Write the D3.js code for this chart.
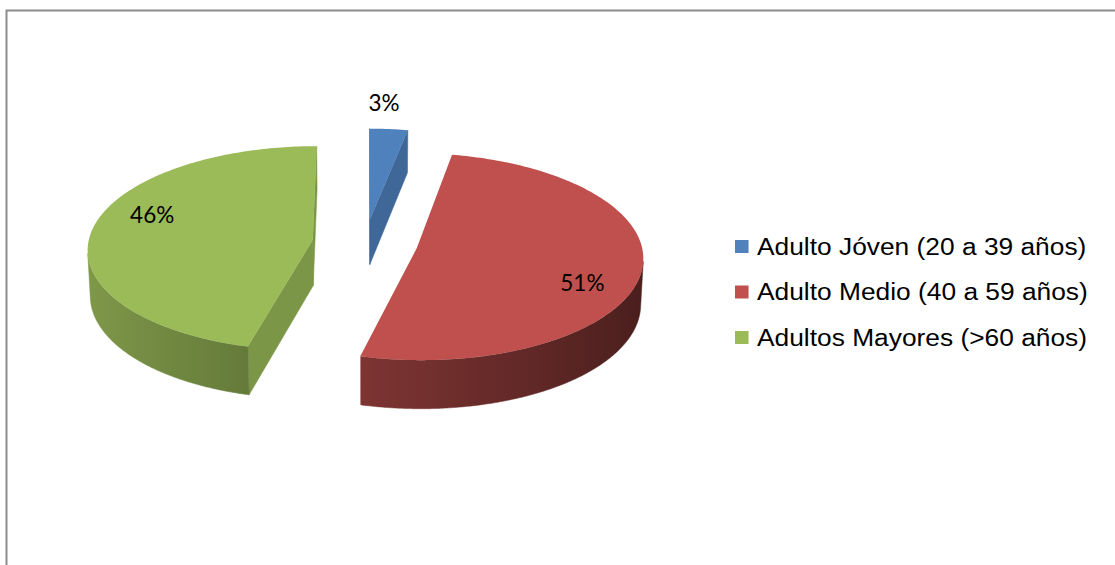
<!DOCTYPE html>
<html>
<head>
<meta charset="utf-8">
<script src="https://cdn.jsdelivr.net/npm/d3@7"></script>
<style>
  html, body { margin: 0; padding: 0; background: #fff; }
  svg { display: block; }
</style>
</head>
<body>
<svg id="chart" width="1115" height="565"></svg>
<script>
// Age groups and their share of the sample (percent)
const categories = ["Adulto Jóven (20 a 39 años)", "Adulto Medio (40 a 59 años)", "Adultos Mayores (>60 años)"];
const shares = [3, 51, 46];
const colors = ["#4F81BD", "#C0504D", "#9BBB59"];

const W = 1115, H = 565;
const svg = d3.select("#chart");
const defs = svg.append("defs");

// chart frame
svg.append("rect")
  .attr("x", 6.5).attr("y", 10.5)
  .attr("width", W + 20).attr("height", H + 20)
  .attr("fill", "#fff").attr("stroke", "#8c8c8c").attr("stroke-width", 2);

// ---- simple perspective camera for the 3-D pie ----
const tilt = 27 * Math.PI / 180;   // elevation of the view
const camDist = 11;                // camera distance in pie radii
const focal = 2470;                // pixels per unit at unit depth
const cx = 365, cy = 243;          // screen position of pie centre
const thickness = 0.23;            // pie height in radii
const explode = 0.235;             // slice pull-out in radii
const cosT = Math.cos(tilt), sinT = Math.sin(tilt);
const cam = [0, camDist * sinT, -camDist * cosT];

function project(X, Y, Z) {
  const D = camDist + Z * cosT - Y * sinT;
  return [cx + focal * X / D, cy - focal * (Y * cosT + Z * sinT) / D];
}
function faces(P, n) {
  return (cam[0] - P[0]) * n[0] + (cam[1] - P[1]) * n[1] + (cam[2] - P[2]) * n[2] > 0;
}
function shade(hex, k) {
  const c = d3.rgb(hex);
  return d3.rgb(c.r * k, c.g * k, c.b * k).formatHex();
}
// side light comes from the left
const wallLight = a => Math.max(0.3, Math.min(0.85, 0.6 + 0.22 * (-Math.sin(a))));

const pie = d3.pie().sort(null).startAngle(0).endAngle(2 * Math.PI);
const arcs = pie(shares).map((d, i) => {
  const mid = (d.startAngle + d.endAngle) / 2;
  return { ...d, i, mid, ox: explode * Math.sin(mid), oz: explode * Math.cos(mid) };
});

const line = d3.line();
const gPie = svg.append("g");

// paint farthest slices first
const order = arcs.slice().sort((a, b) => b.oz - a.oz);

order.forEach(s => {
  const g = gPie.append("g");
  const base = colors[s.i];
  const pt = (a, y) => [s.ox + Math.sin(a), y, s.oz + Math.cos(a)];
  const apex = y => [s.ox, y, s.oz];
  const P = v => project(v[0], v[1], v[2]);
  const yTop = 0, yBot = -thickness;

  // radial cut faces
  const cuts = [
    { a: s.startAngle, n: [-Math.cos(s.startAngle), 0, Math.sin(s.startAngle)] },
    { a: s.endAngle, n: [Math.cos(s.endAngle), 0, -Math.sin(s.endAngle)] }
  ];
  cuts.forEach(c => {
    const mid = [s.ox + Math.sin(c.a) / 2, -thickness / 2, s.oz + Math.cos(c.a) / 2];
    if (!faces(mid, c.n)) return;
    const quad = [P(apex(yTop)), P(pt(c.a, yTop)), P(pt(c.a, yBot)), P(apex(yBot))];
    g.append("path").attr("d", line(quad) + "Z")
      .attr("fill", shade(base, 0.8)).attr("stroke", shade(base, 0.8)).attr("stroke-width", 0.5);
  });

  // curved outer wall: the part that faces the camera, shaded by a horizontal gradient
  const step = Math.PI / 360;
  const vis = [];
  for (let a = s.startAngle; a <= s.endAngle + 1e-9; a += step) {
    const aa = Math.min(a, s.endAngle);
    if (faces(pt(aa, -thickness / 2), [Math.sin(aa), 0, Math.cos(aa)])) vis.push(aa);
  }
  if (vis.length > 1) {
    const topPts = vis.map(a => P(pt(a, yTop)));
    const botPts = vis.map(a => P(pt(a, yBot)));
    const xs = topPts.map(p => p[0]);
    const x0 = d3.min(xs), x1 = d3.max(xs);
    const gid = "wall" + s.i;
    const grad = defs.append("linearGradient").attr("id", gid)
      .attr("gradientUnits", "userSpaceOnUse")
      .attr("x1", x0).attr("x2", x1).attr("y1", 0).attr("y2", 0);
    const stops = vis.map((a, k) => ({ off: (xs[k] - x0) / (x1 - x0 || 1), col: shade(base, wallLight(a)) }))
      .sort((p, q) => p.off - q.off);
    stops.filter((d, k) => k % 6 === 0 || k === stops.length - 1).forEach(d => {
      grad.append("stop").attr("offset", d.off).attr("stop-color", d.col);
    });
    const poly = topPts.concat(botPts.reverse());
    g.append("path").attr("d", line(poly) + "Z")
      .attr("fill", `url(#${gid})`).attr("stroke", `url(#${gid})`).attr("stroke-width", 0.5);
  }

  // top face
  const top = [P(apex(yTop))];
  const n = Math.ceil((s.endAngle - s.startAngle) / (Math.PI / 180)) + 1;
  for (let k = 0; k <= n; k++) {
    const a = s.startAngle + (s.endAngle - s.startAngle) * k / n;
    top.push(P(pt(a, yTop)));
  }
  g.append("path").attr("d", line(top) + "Z").attr("fill", base);
});

// percentage labels
const fmt = d3.format(".0%");
const total = d3.sum(shares);
arcs.forEach(s => {
  const frac = s.value / total;
  const outside = frac < 0.1;
  const a = outside ? s.mid - 2 * Math.PI / 180 : s.mid + 12 * Math.PI / 180;
  const r = outside ? 1.22 : 0.78;
  const p = project(s.ox + r * Math.sin(a), 0, s.oz + r * Math.cos(a));
  svg.append("text")
    .attr("x", p[0]).attr("y", p[1])
    .attr("text-anchor", "middle")
    .attr("dominant-baseline", outside ? "auto" : "central")
    .attr("font-family", "Lato, 'Open Sans', sans-serif")
    .attr("font-size", 22.5)
    .attr("fill", "#000")
    .text(fmt(frac));
});

// legend
const legend = svg.append("g").attr("transform", "translate(735,0) scale(1.13,1)");
categories.forEach((c, i) => {
  const base = 255 + i * 45.5;
  legend.append("rect")
    .attr("x", 0).attr("y", base - 15)
    .attr("width", 12).attr("height", 13)
    .attr("fill", colors[i]);
  legend.append("text")
    .attr("x", 19.5).attr("y", base)
    .attr("font-family", "'Liberation Sans', Arial, sans-serif")
    .attr("font-size", 23.3)
    .attr("fill", "#000")
    .text(c);
});
</script>
</body>
</html>
